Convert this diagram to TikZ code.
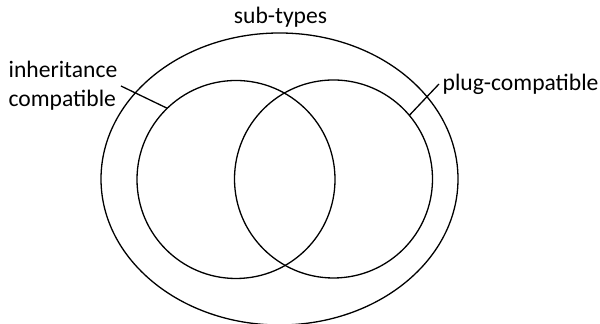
\documentclass[tikz,border=0pt]{standalone}
\usepackage{fontspec}
\setmainfont{Carlito}
\usetikzlibrary{shapes.geometric}

\begin{document}
\begin{tikzpicture}[x=0.5pt,y=-0.5pt,line width=0.65pt,
        set/.style={draw,circle,minimum size=99pt,inner sep=0pt,outer sep=0pt},
        lbl/.style={font=\fontsize{11.8}{14.5}\selectfont,inner sep=1.5pt,align=left}]
        \useasboundingbox (0,0) rectangle (600,324);
        \node[draw,ellipse,minimum width=178.5pt,minimum height=146pt,inner sep=0pt] (sub) at (279.5,179) {};
        \node[lbl] (sublbl) at (280.5,17) {sub-types};
        \node[set] (inh) at (236,179.5) {};
        \node[set] (plug) at (333.5,179) {};
        \node[lbl,anchor=west] (inhlbl) at (5,86) {inheritance\\compatible};
        \node[lbl,anchor=west] (pluglbl) at (439,84) {plug-compatible};

        \draw (inhlbl.east) -- (inh.134);
        \draw (pluglbl.west) -- (plug.40);
    \end{tikzpicture}
\end{document}
